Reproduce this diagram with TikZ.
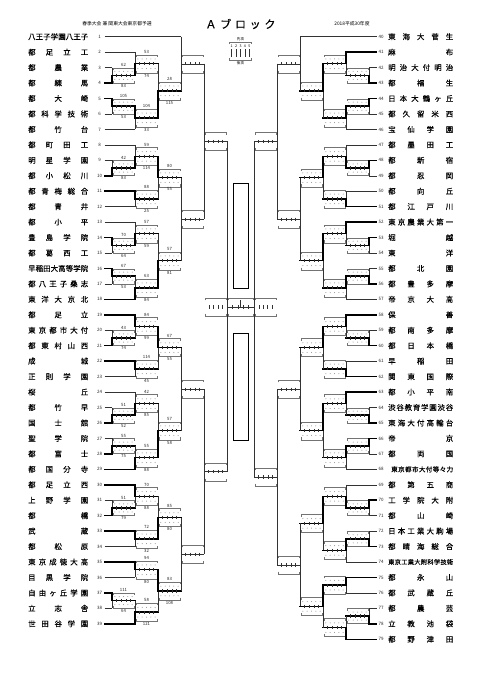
\documentclass[tikz,border=0pt]{standalone}
\usepackage{fontspec}
\setmainfont{Noto Sans CJK JP}
\newfontfamily\nmfont{Noto Sans CJK JP}[FakeBold=0.35]
\makeatletter
\def\sp@loop#1{\ifx#1\@nil\else\sp@#1\def\sp@{\hfill}\expandafter\sp@loop\fi}
\newcommand\spreadtext[2]{\hbox to #1{\def\sp@{}\edef\tmp@{#2}\expandafter\sp@loop\tmp@\@nil}}
\makeatother
\tikzset{
  thinl/.style={line width=0.45pt, black!80},
  thickl/.style={line width=1.5pt, black, line cap=rect},
  boxc/.style={line width=0.35pt, black!55},
  dotc/.style={black!45},
  lab/.style={font=\fontsize{4.3}{4.5}\selectfont, inner sep=0pt, text=black!85},
  num/.style={font=\fontsize{4.5}{5}\selectfont, inner sep=0pt, text=black!85},
  nm/.style={font=\nmfont\fontsize{7.4}{8}\selectfont, inner sep=0pt, anchor=west},
  hdr/.style={font=\fontsize{4.8}{5}\selectfont, inner sep=0pt},
}
% #1 connector x, #2 output x, #3 y1, #4 y2, #5 winner 0/1/2, #6 above, #7 below, #8 half height
\newcommand\bmatch[8]{%
  \pgfmathsetmacro\ym{(#3+#4)/2}%
  \pgfmathsetmacro\xa{min(#1,#2)+0.7}%
  \pgfmathsetmacro\xb{max(#1,#2)-0.7}%
  \pgfmathsetmacro\yt{\ym-#8}%
  \pgfmathsetmacro\yb{\ym+#8}%
  \draw[boxc] ({\xa},{\yt+2.2}) -- ({\xa},{\yt}) -- ({\xb},{\yt}) -- ({\xb},{\yt+2.2});
  \draw[boxc] ({\xa},{\yb-2.2}) -- ({\xa},{\yb}) -- ({\xb},{\yb}) -- ({\xb},{\yb-2.2});
  \draw[thinl] ({#1},{#3}) -- ({#1},{#4});
  \ifcase#5 \or \draw[thickl] ({#1},{#3}) -- ({#1},{\ym}); \or \draw[thickl] ({#1},{#4}) -- ({#1},{\ym}); \fi
  \ifnum#5=0 \draw[thinl] ({#1},{\ym}) -- ({#2},{\ym}); \else \draw[thickl] ({#1},{\ym}) -- ({#2},{\ym}); \fi
  \foreach \k in {1,2,3,4} {\draw[thinl] ({#1+\k*(#2-#1)/5},{\ym-1.6}) -- ({#1+\k*(#2-#1)/5},{\ym+1.6});}
  \ifnum#5>0
    \foreach \k in {0,...,4} {
      \fill[dotc] ({\xa+(\k+0.5)*(\xb-\xa)/5},{\ym-#8/2-0.3}) circle[radius=0.5pt];
      \fill[dotc] ({\xa+(\k+0.5)*(\xb-\xa)/5},{\ym+#8/2+0.3}) circle[radius=0.5pt];
    }
  \fi
  \node[lab] at ({(#1+#2)/2},{\ym-#8-2.8}) {#6};
  \node[lab] at ({(#1+#2)/2},{\ym+#8+2.8}) {#7};
}
\begin{document}
\begin{tikzpicture}[x=1pt,y=-1pt]
\fill[white] (0,0) rectangle (481,680);
\useasboundingbox (0,0) rectangle (481,680);

% header
\node[hdr] (h1) at (117,23.5) {春季大会 兼 関東大会東京都予選};
\node[font=\nmfont\fontsize{11}{12}\selectfont, inner sep=0pt] (h2) at (240.5,24) {\spreadtext{70pt}{Ａブロック}};
\node[hdr] (h3) at (352,24) {2018平成30年度};

% legend
\node[font=\fontsize{3.6}{4}\selectfont, inner sep=0pt] (lg1) at (240.5,39.5) {先攻};
\draw[boxc] (229.5,44) -- (229.5,42) -- (251.5,42) -- (251.5,44);
\draw[boxc] (229.5,58) -- (229.5,60) -- (251.5,60) -- (251.5,58);
\foreach \k in {1,...,5} {
  \node[font=\fontsize{3.6}{4}\selectfont, inner sep=0pt] (lgn\k) at ({229.5+(\k-0.5)*4.4},46.5) {\k};
  \draw[thinl] ({229.5+(\k-0.5)*4.4},49) -- ({229.5+(\k-0.5)*4.4},57);
}
\node[font=\fontsize{3.6}{4}\selectfont, inner sep=0pt] (lg2) at (240.5,63) {後攻};

% left names
\foreach \i/\n in {1/八王子学園八王子,2/都足立工,3/都農業,4/都練馬,5/都大崎,6/都科学技術,7/都竹台,8/都町田工,9/明星学園,10/都小松川,11/都青梅総合,12/都青井,13/都小平,14/豊島学院,15/都葛西工,16/早稲田大高等学院,17/都八王子桑志,18/東洋大京北,19/都足立,20/東京都市大付,21/都東村山西,22/成城,23/正則学園,24/桜丘,25/都竹早,26/国士舘,27/聖学院,28/都富士,29/都国分寺,30/都足立西,31/上野学園,32/都橋,33/武蔵,34/都松原,35/東京成徳大高,36/目黒学院,37/自由ヶ丘学園,38/立志舎,39/世田谷学園} {
  \node[nm] (nl\i) at (28,{36.7+(\i-1)*15.45}) {\spreadtext{60pt}{\n}};
  \node[num] (kl\i) at (99.5,{36.7+(\i-1)*15.45}) {\i};
}
% right names
\foreach \i/\n in {40/東海大菅生,41/麻布,42/明治大付明治,43/都福生,44/日本大鶴ヶ丘,45/都久留米西,46/宝仙学園,47/都墨田工,48/都新宿,49/都忍岡,50/都向丘,51/都江戸川,52/東京農業大第一,53/堀越,54/東洋,55/都北園,56/都豊多摩,57/帝京大高,58/保善,59/都南多摩,60/都日本橋,61/早稲田,62/関東国際,63/都小平南,64/渋谷教育学園渋谷,65/東海大付高輪台,66/帝京,67/都両国,69/都第五商,70/工学院大附,71/都山崎,72/日本工業大駒場,73/都晴海総合,75/都永山,76/都武蔵丘,77/都農芸,78/立教池袋,79/都野津田} {
  \node[nm] (nr\i) at (388,{36.7+(\i-40)*15.45}) {\spreadtext{65pt}{\n}};
  \node[num] (kr\i) at (381,{36.7+(\i-40)*15.45}) {\i};
}
\node[nm, font=\nmfont\fontsize{6.5}{7}\selectfont] (nr68) at (391,{36.7+28*15.45}) {\spreadtext{62pt}{東京都市大付等々力}};
\node[num] (kr68) at (381,{36.7+28*15.45}) {68};
\node[nm, font=\nmfont\fontsize{6.2}{7}\selectfont] (nr74) at (388,{36.7+34*15.45}) {\spreadtext{65pt}{東京工業大附科学技術}};
\node[num] (kr74) at (381,{36.7+34*15.45}) {74};

% left team lines
\foreach \i/\x/\s in {1/181/thinl,2/135/thinl,3/112/thinl,4/112/thickl,5/112/thickl,6/112/thinl,7/135/thinl,8/135/thinl,9/112/thinl,10/112/thickl,11/135/thickl,12/135/thinl,13/135/thinl,14/112/thickl,15/112/thinl,16/112/thickl,17/112/thinl,18/135/thickl,19/135/thickl,20/112/thinl,21/112/thickl,22/135/thickl,23/135/thinl,24/135/thinl,25/112/thinl,26/112/thickl,27/112/thinl,28/112/thickl,29/135/thickl,30/135/thickl,31/112/thinl,32/112/thickl,33/135/thickl,34/135/thinl,35/135/thickl,36/135/thinl,37/112/thickl,38/112/thinl,39/135/thickl} {
  \draw[\s] (104.5,{36.7+(\i-1)*15.45}) -- (\x,{36.7+(\i-1)*15.45});
}
% right team lines
\foreach \i/\x/\s in {40/300/thinl,41/346/thickl,42/369/thinl,43/369/thickl,44/369/thickl,45/369/thinl,46/346/thinl,47/346/thinl,48/369/thickl,49/369/thinl,50/346/thinl,51/346/thickl,52/346/thickl,53/369/thickl,54/369/thinl,55/369/thinl,56/369/thickl,57/346/thinl,58/346/thickl,59/369/thinl,60/369/thickl,61/346/thinl,62/346/thickl,63/346/thickl,64/369/thinl,65/369/thickl,66/369/thickl,67/369/thinl,68/346/thinl,69/346/thinl,70/369/thickl,71/369/thinl,72/369/thinl,73/369/thickl,74/346/thinl,75/346/thickl,76/346/thinl,77/369/thinl,78/369/thickl,79/346/thickl} {
  \draw[\s] (376.5,{36.7+(\i-40)*15.45}) -- (\x,{36.7+(\i-40)*15.45});
}

% ---- left bracket ----
\bmatch{112}{135}{67.60}{83.05}{2}{62}{83}{7.5}
\bmatch{112}{135}{98.50}{113.95}{1}{105}{53}{7.5}
\bmatch{112}{135}{160.30}{175.75}{2}{42}{83}{7.5}
\bmatch{112}{135}{237.55}{253.00}{1}{70}{64}{7.5}
\bmatch{112}{135}{268.45}{283.90}{1}{67}{53}{7.5}
\bmatch{112}{135}{330.25}{345.70}{2}{43}{74}{7.5}
\bmatch{112}{135}{407.50}{422.95}{2}{51}{52}{7.5}
\bmatch{112}{135}{438.40}{453.85}{2}{55}{75}{7.5}
\bmatch{112}{135}{500.20}{515.65}{2}{51}{79}{7.5}
\bmatch{112}{135}{592.90}{608.35}{1}{111}{64}{7.5}

\bmatch{135}{158}{52.15}{75.325}{2}{53}{74}{9}
\bmatch{135}{158}{106.225}{129.40}{1}{104}{33}{9}
\bmatch{135}{158}{144.85}{168.025}{2}{59}{114}{9}
\bmatch{135}{158}{191.20}{206.65}{1}{88}{25}{9}
\bmatch{135}{158}{222.10}{245.275}{2}{57}{59}{9}
\bmatch{135}{158}{276.175}{299.35}{2}{63}{84}{9}
\bmatch{135}{158}{314.80}{337.975}{1}{84}{99}{9}
\bmatch{135}{158}{361.15}{376.60}{1}{114}{45}{9}
\bmatch{135}{158}{392.05}{415.225}{2}{42}{85}{9}
\bmatch{135}{158}{446.125}{469.30}{2}{55}{88}{9}
\bmatch{135}{158}{484.75}{507.925}{1}{70}{88}{9}
\bmatch{135}{158}{531.10}{546.55}{1}{72}{32}{9}
\bmatch{135}{158}{562.00}{577.45}{1}{94}{80}{9}
\bmatch{135}{158}{600.625}{623.80}{2}{58}{121}{9}

\bmatch{158}{181}{63.7375}{117.8125}{2}{28}{115}{9}
\bmatch{158}{181}{156.4375}{198.925}{1}{80}{55}{9}
\bmatch{158}{181}{233.6875}{287.7625}{2}{57}{81}{9}
\bmatch{158}{181}{326.3875}{368.875}{1}{67}{55}{9}
\bmatch{158}{181}{403.6375}{457.7125}{2}{57}{58}{9}
\bmatch{158}{181}{496.3375}{538.825}{2}{85}{80}{9}
\bmatch{158}{181}{569.725}{612.2125}{1}{83}{108}{9}

\bmatch{181}{204}{36.70}{90.775}{0}{}{}{9}
\bmatch{181}{204}{177.68}{260.725}{0}{}{}{9}
\bmatch{181}{204}{347.63}{430.675}{0}{}{}{9}
\bmatch{181}{204}{517.58}{590.97}{0}{}{}{9}
\bmatch{204}{227}{63.74}{219.2}{0}{}{}{9}
\bmatch{204}{227}{389.15}{554.28}{0}{}{}{9}

% ---- right bracket ----
\bmatch{369}{346}{67.60}{83.05}{2}{}{}{7.5}
\bmatch{369}{346}{98.50}{113.95}{1}{}{}{7.5}
\bmatch{369}{346}{160.30}{175.75}{1}{}{}{7.5}
\bmatch{369}{346}{237.55}{253.00}{1}{}{}{7.5}
\bmatch{369}{346}{268.45}{283.90}{2}{}{}{7.5}
\bmatch{369}{346}{330.25}{345.70}{2}{}{}{7.5}
\bmatch{369}{346}{407.50}{422.95}{2}{}{}{7.5}
\bmatch{369}{346}{438.40}{453.85}{1}{}{}{7.5}
\bmatch{369}{346}{500.20}{515.65}{1}{}{}{7.5}
\bmatch{369}{346}{531.10}{546.55}{2}{}{}{7.5}
\bmatch{369}{346}{608.35}{623.80}{2}{}{}{7.5}

\bmatch{346}{323}{52.15}{75.325}{1}{}{}{9}
\bmatch{346}{323}{106.225}{129.40}{1}{}{}{9}
\bmatch{346}{323}{144.85}{168.025}{2}{}{}{9}
\bmatch{346}{323}{191.20}{206.65}{2}{}{}{9}
\bmatch{346}{323}{222.10}{245.275}{1}{}{}{9}
\bmatch{346}{323}{276.175}{299.35}{1}{}{}{9}
\bmatch{346}{323}{314.80}{337.975}{1}{}{}{9}
\bmatch{346}{323}{361.15}{376.60}{2}{}{}{9}
\bmatch{346}{323}{392.05}{415.225}{1}{}{}{9}
\bmatch{346}{323}{446.125}{469.30}{1}{}{}{9}
\bmatch{346}{323}{484.75}{507.925}{2}{}{}{9}
\bmatch{346}{323}{538.825}{562.00}{1}{}{}{9}
\bmatch{346}{323}{577.45}{592.90}{1}{}{}{9}
\bmatch{346}{323}{616.075}{639.25}{2}{}{}{9}

\bmatch{323}{300}{63.7375}{117.8125}{1}{}{}{9}
\bmatch{323}{300}{156.4375}{198.925}{1}{}{}{9}
\bmatch{323}{300}{233.6875}{287.7625}{1}{}{}{9}
\bmatch{323}{300}{326.3875}{368.875}{1}{}{}{9}
\bmatch{323}{300}{403.6375}{457.7125}{1}{}{}{9}
\bmatch{323}{300}{496.3375}{550.4125}{1}{}{}{9}
\bmatch{323}{300}{585.175}{627.6625}{1}{}{}{9}

\bmatch{300}{277}{36.70}{90.775}{0}{}{}{9}
\bmatch{300}{277}{177.68}{260.725}{0}{}{}{9}
\bmatch{300}{277}{347.63}{430.675}{0}{}{}{9}
\bmatch{300}{277}{523.375}{606.41875}{0}{}{}{9}
\bmatch{277}{254}{63.74}{219.2}{0}{}{}{9}
\bmatch{277}{254}{389.15}{564.9}{0}{}{}{9}

% ---- centre ----
\coordinate (cl1) at (227,141.47);
\coordinate (cl2) at (227,471.72);
\coordinate (cr1) at (254,141.47);
\coordinate (cr2) at (254,477.03);
\coordinate (fl) at (227,307);
\coordinate (fr) at (254,307);
\draw[thinl] (cl1) -- (cl2);
\draw[thinl] (cr1) -- (cr2);
\draw[thinl] (fl) -- (fr);
\foreach \k in {1,2,3,4} {\draw[thinl] ({227+\k*27/5},305.4) -- ({227+\k*27/5},308.6);}
\draw[thinl] (240.5,300) -- (240.5,307);
\foreach \a/\b in {227.7/253.3, 205/226.3, 254.7/276} {
  \draw[boxc] (\a,300.2) -- (\a,298) -- (\b,298) -- (\b,300.2);
  \draw[boxc] (\a,313.8) -- (\a,316) -- (\b,316) -- (\b,313.8);
}
\foreach \k in {1,2,3,4} {
  \draw[thinl] ({205+\k*21.3/5},305.4) -- ({205+\k*21.3/5},308.6);
  \draw[thinl] ({254.7+\k*21.3/5},305.4) -- ({254.7+\k*21.3/5},308.6);
}
\draw[line width=1pt] (233,183) rectangle (248,288);
\draw[line width=1pt] (233,333) rectangle (248,440);
\end{tikzpicture}
\end{document}
